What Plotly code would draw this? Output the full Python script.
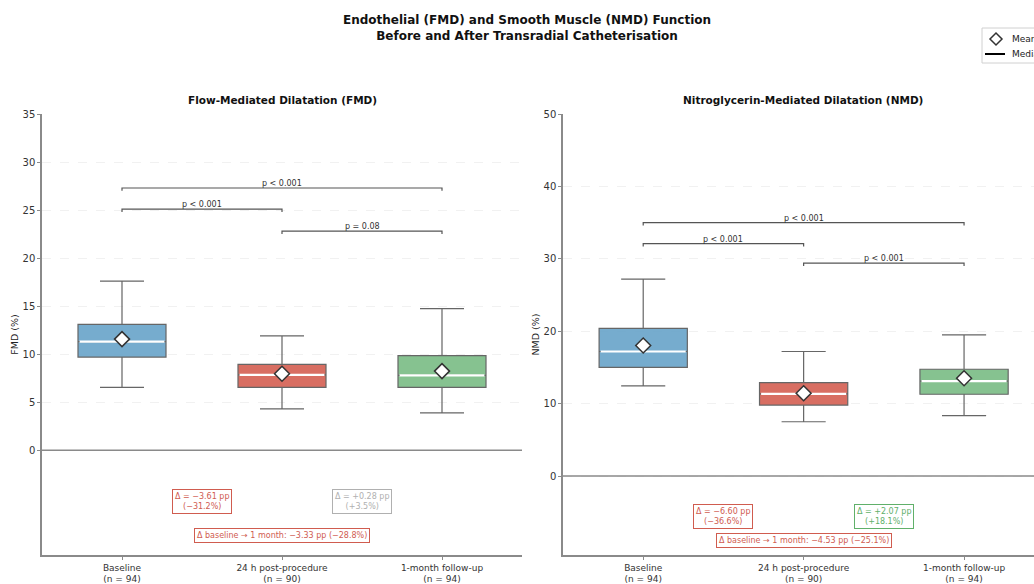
import plotly.graph_objects as go

# ---------------- data ----------------
groups = ["Baseline", "24 h post-procedure", "1-month follow-up"]
n_per_group = [94, 90, 94]
box_colors = ["#6FA8CC", "#D6675A", "#80BF8B"]

# FMD (%)
fmd_lower = [6.55, 4.3, 3.9]
fmd_q1 = [9.7, 6.55, 6.55]
fmd_median = [11.3, 7.85, 7.8]
fmd_q3 = [13.1, 8.95, 9.85]
fmd_upper = [17.6, 11.9, 14.75]
fmd_mean = [11.57, 7.96, 8.24]

# NMD (%)
nmd_lower = [12.45, 7.5, 8.35]
nmd_q1 = [15.0, 9.8, 11.3]
nmd_median = [17.2, 11.35, 13.1]
nmd_q3 = [20.4, 12.9, 14.75]
nmd_upper = [27.2, 17.2, 19.5]
nmd_mean = [18.03, 11.43, 13.50]

# significance brackets: (from group, to group, height, label)
fmd_pvals = [(0, 2, 27.3, "p < 0.001"), (0, 1, 25.1, "p < 0.001"), (1, 2, 22.8, "p = 0.08")]
nmd_pvals = [(0, 2, 35.0, "p < 0.001"), (0, 1, 32.1, "p < 0.001"), (1, 2, 29.4, "p < 0.001")]

# change annotations
fmd_delta_pp = [-3.61, 0.28]
fmd_delta_pct = [-31.2, 3.5]
fmd_total = (-3.33, -28.8)
nmd_delta_pp = [-6.60, 2.07]
nmd_delta_pct = [-36.6, 18.1]
nmd_total = (-4.53, -25.1)

legend_labels = ["Mean", "Median"]
title_text = ("<b>Endothelial (FMD) and Smooth Muscle (NMD) Function</b><br>"
              "<b>Before and After Transradial Catheterisation</b>")
panel_titles = ["Flow-Mediated Dilatation (FMD)", "Nitroglycerin-Mediated Dilatation (NMD)"]
y_titles = ["FMD (%)", "NMD (%)"]

FONT = "DejaVu Sans"
W, H = 1034, 584
RED = "#CC4B3C"
GREEN = "#4FA85A"
GREY = "#A8A8A8"


def fmt(v):
    s = f"{abs(v):.2f}"
    return ("\u2212" if v < 0 else "+") + s


def fmtp(v):
    s = f"{abs(v):.1f}%"
    return ("\u2212" if v < 0 else "+") + s


fig = go.Figure()

panels = [
    dict(x="x", y="y", lower=fmd_lower, q1=fmd_q1, med=fmd_median, q3=fmd_q3, upper=fmd_upper,
         mean=fmd_mean, pv=fmd_pvals, dpp=fmd_delta_pp, dpct=fmd_delta_pct, tot=fmd_total,
         tick=0.3, dy=(-5.3, -8.85)),
    dict(x="x2", y="y2", lower=nmd_lower, q1=nmd_q1, med=nmd_median, q3=nmd_q3, upper=nmd_upper,
         mean=nmd_mean, pv=nmd_pvals, dpp=nmd_delta_pp, dpct=nmd_delta_pct, tot=nmd_total,
         tick=0.4, dy=(-5.65, -8.95)),
]

BOXW = 0.55
for pi, p in enumerate(panels):
    for i in range(3):
        fig.add_trace(go.Box(
            x=[i], q1=[p["q1"][i]], median=[p["med"][i]], q3=[p["q3"][i]],
            lowerfence=[p["lower"][i]], upperfence=[p["upper"][i]],
            fillcolor=box_colors[i], line=dict(color="#5E5E5E", width=1.2),
            whiskerwidth=0.5, width=BOXW, boxpoints=False, showlegend=False,
            hoverinfo="skip", xaxis=p["x"], yaxis=p["y"], opacity=0.95,
        ))
    # white median lines
    mx, my = [], []
    for i in range(3):
        mx += [i - BOXW / 2 + 0.01, i + BOXW / 2 - 0.01, None]
        my += [p["med"][i], p["med"][i], None]
    fig.add_trace(go.Scatter(x=mx, y=my, mode="lines", line=dict(color="white", width=2.2),
                             showlegend=False, hoverinfo="skip", xaxis=p["x"], yaxis=p["y"]))
    # brackets
    bx, by = [], []
    for (a, b, h, lab) in p["pv"]:
        bx += [a, a, b, b, None]
        by += [h - p["tick"], h, h, h - p["tick"], None]
        fig.add_annotation(x=(a + b) / 2, y=h, text=lab, showarrow=False, yanchor="bottom",
                           yshift=-2, xref=p["x"], yref=p["y"],
                           font=dict(family=FONT, size=8, color="#333"))
    fig.add_trace(go.Scatter(x=bx, y=by, mode="lines", line=dict(color="#555", width=1.2),
                             showlegend=False, hoverinfo="skip", xaxis=p["x"], yaxis=p["y"]))
    # means
    fig.add_trace(go.Scatter(x=[0, 1, 2], y=p["mean"], mode="markers",
                             marker=dict(symbol="diamond", size=11.5, color="white",
                                         line=dict(color="#333", width=1.5)),
                             showlegend=False, hoverinfo="skip",
                             xaxis=p["x"], yaxis=p["y"]))
    # zero line
    fig.add_shape(type="line", x0=-0.5, x1=2.6, y0=0, y1=0, xref=p["x"], yref=p["y"],
                  line=dict(color="#8A8A8A", width=1.6), layer="above")
    # delta annotations
    for k in range(2):
        col = RED if p["dpp"][k] < 0 else (GREEN if p["dpct"][k] > 5 else GREY)
        fig.add_annotation(x=k + 0.5, y=p["dy"][0], xref=p["x"], yref=p["y"], showarrow=False,
                           text=f"\u0394 = {fmt(p['dpp'][k])} pp<br>({fmtp(p['dpct'][k])})",
                           font=dict(family=FONT, size=8, color=col), bgcolor="white",
                           bordercolor=col, borderwidth=1, borderpad=2, opacity=0.9)
    fig.add_annotation(x=1, y=p["dy"][1], xref=p["x"], yref=p["y"], showarrow=False,
                       text=f"\u0394 baseline \u2192 1 month: {fmt(p['tot'][0])} pp ({fmtp(p['tot'][1])})",
                       font=dict(family=FONT, size=8, color=RED), bgcolor="white",
                       bordercolor=RED, borderwidth=1, borderpad=2, opacity=0.9)

ticktext = [f"{g}<br>(n = {n})" for g, n in zip(groups, n_per_group)]

axis_common = dict(showline=True, linecolor="#8A8A8A", linewidth=1.5, ticks="outside",
                   tickcolor="#8A8A8A", ticklen=3, zeroline=False)

x_dom1 = [42 / W, 522 / W]
x_dom2 = [563 / W, 1.0]
y_dom = [(H - 555) / H, (H - 114) / H]
xtickfont = dict(family=FONT, size=9, color="#333")
ytickfont = dict(family=FONT, size=10, color="#333")

fig.update_layout(
    width=W, height=H,
    margin=dict(l=0, r=0, t=0, b=0, autoexpand=False),
    plot_bgcolor="white", paper_bgcolor="white",
    font=dict(family=FONT),
    showlegend=False,
    xaxis=dict(domain=x_dom1, range=[-0.5, 2.5], tickvals=[0, 1, 2], ticktext=ticktext,
               showgrid=False, anchor="y", tickfont=xtickfont, **axis_common),
    xaxis2=dict(domain=x_dom2, range=[-0.5, 2.436], tickvals=[0, 1, 2], ticktext=ticktext,
                showgrid=False, anchor="y2", tickfont=xtickfont, **axis_common),
    yaxis=dict(domain=y_dom, range=[-10.9, 35], tickvals=[0, 5, 10, 15, 20, 25, 30, 35],
               showgrid=True, gridcolor="#F1F1F1", griddash="dash", anchor="x",
               title=dict(text=y_titles[0], font=dict(family=FONT, size=9.5, color="#222"), standoff=2),
               tickfont=ytickfont, **axis_common),
    yaxis2=dict(domain=y_dom, range=[-10.9, 50], tickvals=[0, 10, 20, 30, 40, 50],
                showgrid=True, gridcolor="#F1F1F1", griddash="dash", anchor="x2",
                title=dict(text=y_titles[1], font=dict(family=FONT, size=9.5, color="#222"), standoff=2),
                tickfont=ytickfont, **axis_common),
)

# manual legend (figure is cropped at the right edge, like the reference)
def px(x):
    return x / W


def py(y):
    return 1 - y / H


fig.add_shape(type="rect", xref="paper", yref="paper", x0=px(982), x1=px(1045), y0=py(28), y1=py(63),
              line=dict(color="#D0D0D0", width=1), fillcolor="white")
cx, cy, r = 996, 39, 6
fig.add_shape(type="path", xref="paper", yref="paper",
              path=f"M {px(cx - r)} {py(cy)} L {px(cx)} {py(cy - r)} L {px(cx + r)} {py(cy)} L {px(cx)} {py(cy + r)} Z",
              line=dict(color="#333", width=1.5), fillcolor="white")
fig.add_shape(type="line", xref="paper", yref="paper", x0=px(985), x1=px(1005), y0=py(54), y1=py(54),
              line=dict(color="black", width=2))
for lab, yy in zip(legend_labels, [39, 54]):
    fig.add_annotation(x=px(1010), y=py(yy), xref="paper", yref="paper", text=lab, showarrow=False,
                       xanchor="left", yanchor="middle", font=dict(family=FONT, size=9, color="#222"))

fig.add_annotation(x=527 / W, y=1 - 28 / H, xref="paper", yref="paper", text=title_text,
                   showarrow=False, yanchor="middle", xanchor="center",
                   font=dict(family=FONT, size=12, color="#111"))
for cxx, t in zip([282 / W, 803 / W], panel_titles):
    fig.add_annotation(x=cxx, y=1 - 100 / H, xref="paper", yref="paper", text=f"<b>{t}</b>",
                       showarrow=False, yanchor="middle", xanchor="center",
                       font=dict(family=FONT, size=10.5, color="#111"))

fig.write_html("out.html")
